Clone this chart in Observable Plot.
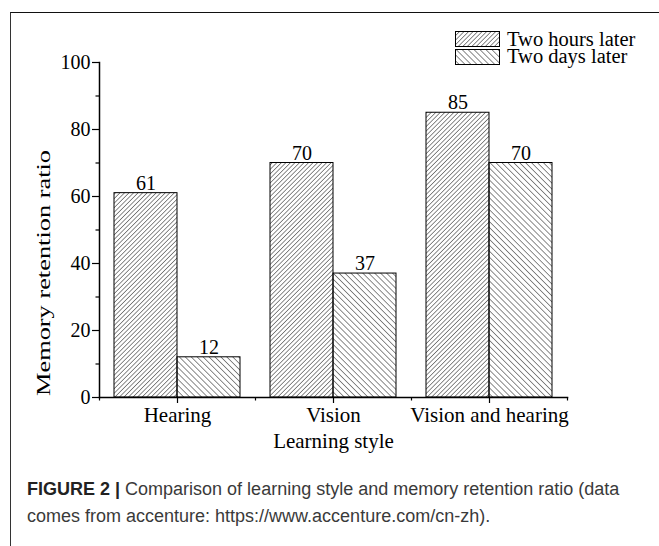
<!DOCTYPE html>
<html>
<head>
<meta charset="utf-8">
<script src="https://cdn.jsdelivr.net/npm/d3@7"></script>
<script src="https://cdn.jsdelivr.net/npm/@observablehq/plot@0.6"></script>
<style>
  html, body { margin: 0; padding: 0; background: #fff; }
  #wrap { position: relative; width: 659px; height: 546px; overflow: hidden; background: #fff; }
  #frame { position: absolute; left: 10px; top: 12px; right: -2px; bottom: -2px; border-top: 1.5px solid #111; border-left: 1.5px solid #333; }
  #chart { position: absolute; left: 0; top: 0; }
  .legend { position: absolute; font-family: "Liberation Serif", "Times New Roman", serif; font-size: 20.5px; color: #000; }
  .swatch { position: absolute; }
  .ltext { position: absolute; white-space: nowrap; line-height: 17px; height: 17px; }
  #caption { position: absolute; left: 27px; top: 476px; width: 630px; font-family: "Liberation Sans", Arial, sans-serif; font-size: 18px; line-height: 27px; color: #3a3a3a; }
  #caption b { color: #222; }
</style>
</head>
<body>
<div id="wrap">
  <svg width="0" height="0" style="position:absolute">
    <defs>
      <pattern id="hatchHours" patternUnits="userSpaceOnUse" width="3.2" height="10" patternTransform="rotate(45)">
        <line x1="0" y1="0" x2="0" y2="10" stroke="#000" stroke-width="0.9"></line>
      </pattern>
      <pattern id="hatchDays" patternUnits="userSpaceOnUse" width="4.2" height="10" patternTransform="rotate(-45)">
        <line x1="0" y1="0" x2="0" y2="10" stroke="#000" stroke-width="0.9"></line>
      </pattern>
    </defs>
  </svg>
  <div id="frame"></div>
  <div id="chart"></div>
  <div id="legend"></div>
  <div id="caption"><b>FIGURE 2 |</b> Comparison of learning style and memory retention ratio (data<br>comes from accenture: https://www.accenture.com/cn-zh).</div>
</div>
<script>
const categories = ["Hearing", "Vision", "Vision and hearing"];
const seriesNames = ["Two hours later", "Two days later"];
const twoHoursLater = [61, 70, 85];
const twoDaysLater = [12, 37, 70];
const yMajorTicks = [0, 20, 40, 60, 80, 100];
const yMinorTicks = [10, 30, 50, 70, 90];
const xLabel = "Learning style";
const yLabel = "Memory retention ratio";

const hoursData = categories.map((c, i) => ({category: c, value: twoHoursLater[i]}));
const daysData = categories.map((c, i) => ({category: c, value: twoDaysLater[i]}));

const serif = "Liberation Serif, Times New Roman, serif";

const chart = Plot.plot({
  width: 659,
  height: 470,
  marginLeft: 99,
  marginRight: 92,
  marginTop: 62,
  marginBottom: 73,
  style: {fontFamily: serif, fontSize: "20px", color: "#000", background: "transparent", overflow: "visible"},
  x: {domain: categories, padding: 0, label: null},
  y: {domain: [0, 100], label: null},
  marks: [
    Plot.barY(hoursData, {x: "category", y: "value", fill: "url(#hatchHours)", stroke: "#000", strokeWidth: 1, insetLeft: 15, insetRight: 78}),
    Plot.barY(daysData, {x: "category", y: "value", fill: "url(#hatchDays)", stroke: "#000", strokeWidth: 1, insetLeft: 78, insetRight: 15}),
    Plot.text(hoursData, {x: "category", y: "value", text: d => String(d.value), dx: -31.5, dy: -3.5, lineAnchor: "bottom", fontSize: 20}),
    Plot.text(daysData, {x: "category", y: "value", text: d => String(d.value), dx: 31.5, dy: -3.5, lineAnchor: "bottom", fontSize: 20}),
    Plot.axisY({ticks: yMajorTicks, tickSize: 7, tickPadding: 2, label: null, fontSize: 20, strokeWidth: 1.2}),
    Plot.axisY({ticks: yMinorTicks, tickSize: 3.5, text: null, label: null, strokeWidth: 1.2}),
    Plot.axisX({tickSize: 6, tickPadding: 4, label: null, fontSize: 21, strokeWidth: 1.2}),
    Plot.axisX({ticks: categories, tickSize: 3.5, text: null, label: null, dx: -78, strokeWidth: 1.2}),
    Plot.axisX({ticks: [categories[categories.length - 1]], tickSize: 3.5, text: null, label: null, dx: 78, strokeWidth: 1.2}),
    Plot.frame({anchor: "left", strokeWidth: 1.5}),
    Plot.frame({anchor: "bottom", strokeWidth: 1.5}),
    Plot.text([xLabel], {text: d => d, frameAnchor: "bottom", dy: 50, lineAnchor: "bottom", fontSize: 21}),
    Plot.text([yLabel], {text: d => d, frameAnchor: "left", rotate: -90, dx: -55, dy: 166, textAnchor: "start", fontSize: 18})
  ]
});
document.getElementById("chart").appendChild(chart);

// stretch the y label to match the reference length
d3.select(chart).selectAll("text").filter(function() { return this.textContent === yLabel; })
  .attr("textLength", 246).attr("lengthAdjust", "spacingAndGlyphs");

// legend
const legend = document.getElementById("legend");
const fills = ["url(#hatchHours)", "url(#hatchDays)"];
const rowTops = [31, 48.5];
seriesNames.forEach((name, i) => {
  const sw = document.createElementNS("http://www.w3.org/2000/svg", "svg");
  sw.setAttribute("width", 46); sw.setAttribute("height", 16);
  sw.setAttribute("class", "swatch");
  sw.style.left = "455px"; sw.style.top = rowTops[i] + "px";
  sw.innerHTML = `<rect x="0.5" y="0.5" width="44" height="15" fill="${fills[i]}" stroke="#000" stroke-width="1"></rect>`;
  legend.appendChild(sw);
  const t = document.createElement("div");
  t.className = "legend ltext";
  t.style.left = "507px"; t.style.top = (rowTops[i] - 0.5) + "px";
  t.textContent = name;
  legend.appendChild(t);
});
</script>
</body>
</html>
